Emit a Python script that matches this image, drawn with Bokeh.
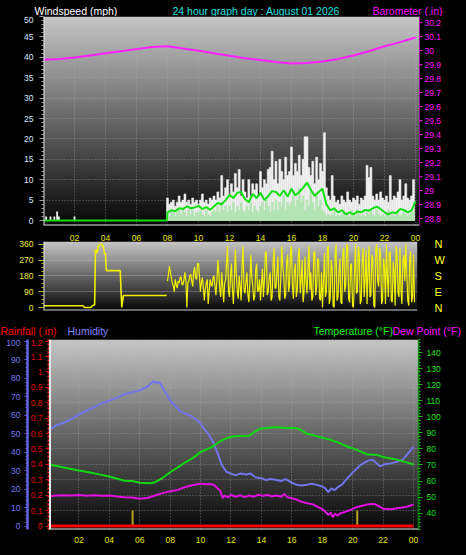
import numpy as np
from bokeh.plotting import figure
from bokeh.layouts import column
from bokeh.models import Range1d, LinearAxis, FixedTicker, NumeralTickFormatter, Span
from bokeh.core.properties import value
from bokeh.embed import file_html
from bokeh.resources import INLINE

FONT = "Liberation Sans"
W = 466

# ------------------------------------------------------------------ data
hour_ticks = [2, 4, 6, 8, 10, 12, 14, 16, 18, 20, 22, 24]
hour_labels = ["02", "04", "06", "08", "10", "12", "14", "16", "18", "20", "22", "00"]

top_titles = ["Windspeed (mph)", "24 hour graph day : August 01 2026", "Barometer (.in)"]
bottom_titles = ["Rainfall (.in)", "Humidity", "Temperature (°F)", "Dew Point (°F)"]

STEP = 0.125
day_hours = [8 + STEP * i for i in range(128)]

early_gust_hours = [0.17, 0.45, 0.7, 0.88, 0.99, 2.0]
early_gust = [1.0, 1.0, 1.0, 2.2, 1.0, 1.0]

gust = [
    5.5, 4.0, 4.5, 5.0, 3.5, 4.5, 6.0, 4.5,
    5.0, 6.5, 4.5, 5.0, 4.0, 5.5, 4.5, 5.0,
    4.0, 5.0, 6.5, 4.5, 5.0, 4.0, 5.5, 5.0,
    6.0, 5.0, 7.0, 5.5, 11.0, 6.0, 8.0, 10.0,
    6.5, 9.0, 7.0, 11.5, 8.0, 12.5, 6.0, 10.0,
    7.0, 5.5, 10.0, 6.0, 9.0, 7.5, 9.0, 6.0,
    12.0, 8.0, 10.0, 9.0, 12.5, 13.0, 17.0, 10.0,
    14.5, 9.0, 15.0, 12.0, 10.0, 15.5, 11.0, 12.0,
    18.0, 11.0, 14.0, 12.0, 16.0, 11.0, 15.0, 20.5,
    20.5, 13.0, 11.0, 14.5, 9.0, 15.5, 10.0, 14.0,
    12.0, 21.5, 8.0, 6.0, 5.0, 11.0, 6.0, 4.5,
    5.0, 4.0, 6.0, 5.0, 4.5, 7.0, 5.0, 4.5,
    5.5, 5.0, 6.0, 4.0, 5.5, 5.0, 6.0, 13.5,
    10.5, 13.0, 6.0, 5.0, 6.5, 5.0, 7.0, 5.5,
    5.0, 6.0, 4.5, 11.0, 5.0, 6.0, 5.5, 7.0,
    10.0, 5.0, 6.0, 9.0, 5.5, 5.0, 6.0, 10.0,
]

speed = [
    1.5, 1, 2, 2.5, 1, 2, 2.5, 1.5,
    2.5, 2, 1, 2.5, 1.5, 2.5, 1, 2,
    2, 2.5, 1.5, 1, 2.5, 1.5, 1, 2,
    2.5, 2, 3.5, 2, 4.5, 2.5, 3.5, 2,
    3.5, 2.5, 4.5, 2, 3.5, 2.5, 4.5, 2.5,
    2, 3.5, 2.5, 4.5, 2, 3.5, 2.5, 2,
    3.5, 4.5, 2.5, 5, 3.5, 2, 4.5, 2.5,
    5, 2.5, 4.5, 3.5, 6, 2.5, 4.5, 3.5,
    4.5, 7, 3.5, 5, 8, 4.5, 6, 2.5,
    5, 3.5, 7, 4.5, 2.5, 6, 3.5, 5,
    2.5, 2, 1, 1.5, 1, 1.5, 2.5, 1,
    1.5, 1, 1.5, 2.5, 1, 1.5, 1, 2.5,
    1.5, 1, 2.5, 1.5, 1, 1.5, 1, 2,
    1.5, 2.5, 1.5, 1, 2.5, 1.5, 1, 1.5,
    1, 1.5, 2.5, 1, 1.5, 1, 1.5, 2.5,
    1, 1.5, 2.5, 1.5, 1, 1.5, 2.5, 2,
]

avg_hours = [0.0, 7.95] + [8 + 0.25 * i for i in range(65)]
avg_speed = [0.0, 0.0,
             2.0, 2.5, 2.3, 3.0, 2.8, 3.5, 3.0, 3.2, 3.6, 2.8, 3.3, 2.6,
             3.5, 4.3, 4.0, 5.0, 6.3, 5.5, 6.8, 7.0, 5.2, 4.5, 6.5, 5.5,
             6.8, 5.0, 6.0, 7.2, 7.0, 6.0, 7.4, 5.8, 7.8, 6.2, 7.0, 8.0,
             9.3, 7.5, 6.0, 7.0, 7.8, 4.0, 2.5, 3.0, 2.0, 2.5, 1.5, 2.0,
             1.5, 2.2, 2.0, 2.6, 2.4, 3.0, 3.4, 2.8, 2.0, 1.5, 2.0, 1.8,
             2.8, 2.6, 2.0, 2.5, 4.7]

baro_hours = list(range(25))
baro = [29.934, 29.94, 29.95, 29.965, 29.98, 29.995, 30.01, 30.025, 30.03,
        30.015, 29.998, 29.98, 29.962, 29.945, 29.932, 29.918, 29.908, 29.91,
        29.922, 29.94, 29.965, 29.995, 30.03, 30.06, 30.093]
baro_ticks = [28.8, 28.9, 29.0, 29.1, 29.2, 29.3, 29.4, 29.5, 29.6, 29.7,
              29.8, 29.9, 30.0, 30.1, 30.2]

dir_early_hours = [0.0, 2.55, 2.65, 3.05, 3.15, 3.3, 3.35, 3.45, 3.55, 3.75,
                   3.85, 3.95, 4.0, 4.05, 4.95, 5.05, 5.15, 7.95]
dir_early = [10, 10, 0, 0, 10, 15, 330, 310, 355, 360, 350, 300, 310, 210,
             210, 0, 68, 68]
DSTEP = 0.0625
dir_hours = [8 + DSTEP * i for i in range(256)]
wind_dir = [
    150, 190, 235, 200, 170, 140, 120, 90,
    160, 130, 110, 150, 140, 170, 175, 130,
    130, 160, 200, 150, 0, 140, 150, 180,
    190, 150, 120, 200, 230, 170, 160, 250,
    250, 180, 90, 140, 170, 120, 40, 100,
    140, 160, 20, 90, 160, 130, 120, 170,
    180, 120, 70, 150, 270, 200, 100, 60,
    200, 120, 30, 140, 160, 260, 350, 90,
    60, 180, 250, 110, 20, 150, 330, 200,
    90, 50, 180, 120, 40, 240, 350, 100,
    80, 150, 200, 70, 30, 140, 300, 180,
    120, 40, 60, 210, 250, 90, 100, 160,
    40, 130, 220, 60, 150, 310, 320, 70,
    90, 170, 200, 40, 60, 250, 340, 110,
    110, 200, 290, 60, 40, 180, 350, 230,
    180, 50, 70, 260, 300, 90, 130, 320,
    350, 120, 50, 210, 250, 60, 100, 300,
    340, 80, 160, 270, 30, 90, 290, 150,
    80, 230, 350, 100, 200, 40, 60, 310,
    320, 70, 120, 280, 270, 50, 40, 200,
    0, 150, 310, 60, 90, 330, 350, 20,
    50, 270, 220, 10, 0, 300, 360, 40,
    60, 200, 280, 30, 20, 310, 340, 90,
    130, 360, 350, 50, 30, 240, 250, 10,
    0, 190, 360, 80, 90, 350, 300, 20,
    40, 270, 340, 60, 160, 330, 20, 200,
    350, 60, 70, 300, 280, 10, 0, 330,
    360, 150, 120, 340, 300, 20, 40, 280,
    230, 20, 360, 170, 60, 310, 320, 40,
    30, 260, 200, 10, 350, 290, 80, 60,
    340, 100, 20, 270, 300, 150, 360, 200,
    40, 10, 280, 320, 30, 60, 300, 30,
]
dir_ticks = [0, 90, 180, 270, 360]
compass = {0: "N", 90: "E", 180: "S", 270: "W", 360: "N"}

hum_hours = [0, 0.5, 1, 1.5, 2, 2.5, 3, 3.5, 4, 4.5, 5, 5.5, 6, 6.5, 6.9, 7.1,
             7.3, 7.5, 7.8, 8.1, 8.4, 8.7, 9.0, 9.3, 9.6, 9.9, 10.2, 10.5,
             10.8, 11.1, 11.4, 11.7, 12.0, 12.3, 12.6, 13.0, 13.3, 13.6, 14.0,
             14.3, 14.6, 15.0, 15.3, 15.6, 16.0, 16.3, 16.6, 17.0, 17.3, 17.6,
             18.0, 18.2, 18.4, 18.6, 18.8, 19.0, 19.3, 19.6, 20.0, 20.5, 21.0,
             21.3, 21.6, 21.8, 22.1, 22.5, 23.0, 23.3, 23.6, 24.0]
humidity = [52, 54.5, 56, 58, 60.5, 62.5, 64.5, 66.5, 68, 69.5, 71.5, 72.5,
            73.5, 75.5, 78.5, 77.5, 78, 75, 71, 67, 64.5, 62, 61, 60, 58.5,
            56.5, 53, 50, 46, 40, 33, 29.5, 28.5, 27.5, 28.5, 28, 28.5, 26.5,
            26, 25, 25.5, 25, 24.5, 25.5, 23.5, 22.5, 22, 22.5, 23, 22.5,
            21.5, 20.5, 18.5, 20.5, 19.5, 21, 22.5, 25.5, 29, 33, 35.5, 36,
            34, 32.5, 33.5, 34, 35, 36, 39, 43]

temp_hours = [0, 1, 2, 3, 4, 5, 5.5, 6, 6.7, 7.0, 7.4, 8.0, 8.5, 9.0, 9.5,
              10.0, 10.7, 11.3, 11.8, 12.2, 13.2, 13.6, 13.9, 15.0, 15.5,
              16.0, 16.47, 17.0, 17.5, 17.9, 18.5, 19.0, 19.5, 20.1, 20.5,
              21.0, 21.6, 22.0, 22.3, 22.7, 23.1, 23.5, 24.0]
temperature = [70.5, 68.5, 66.6, 64.8, 62.8, 60.2, 60.0, 59.0, 58.6, 59.3,
               61.3, 65.5, 68.5, 71.7, 74.5, 78.0, 81.0, 84.8, 87.0, 87.9,
               88.2, 91.0, 92.5, 93.6, 93.0, 93.2, 92.5, 89.4, 88.3, 87.3,
               85.8, 84.2, 82.0, 80.0, 78.5, 76.5, 76.3, 75.0, 74.4, 73.8,
               72.8, 71.8, 70.3]

dew_hours = [0, 0.5, 1, 1.5, 2, 2.5, 3, 3.5, 4, 4.5, 5, 5.5, 6, 6.5, 7, 7.5,
             8, 8.5, 9, 9.5, 10, 10.3, 10.6, 10.9, 11.1, 11.3, 11.45, 11.6,
             11.8, 12.0, 12.3, 12.6, 12.9, 13.2, 13.5, 13.8, 14.1, 14.4, 14.7,
             15.0, 15.3, 15.5, 15.7, 16.0, 16.3, 16.6, 17.0, 17.4, 17.8, 18.1,
             18.4, 18.55, 18.7, 18.85, 19.0, 19.2, 19.5, 19.8, 20.1, 20.5,
             21.0, 21.4, 21.7, 22.0, 22.5, 23.0, 23.5, 24.0]
dew_point = [50.4, 51.0, 51.2, 51.0, 51.3, 50.8, 51.2, 50.9, 51.0, 50.4,
             50.0, 49.8, 49.0, 49.5, 51.0, 52.5, 53.7, 54.5, 56.3, 57.5,
             58.3, 58.0, 58.2, 57.5, 55.5, 54.0, 49.5, 51.0, 49.8, 51.5,
             50.2, 51.2, 50.0, 51.0, 50.3, 51.5, 50.8, 51.3, 50.5, 51.0,
             50.2, 52.0, 50.0, 49.3, 48.5, 47.2, 46.2, 45.5, 43.5, 42.0,
             38.8, 40.5, 37.5, 39.8, 38.5, 40.0, 40.8, 41.8, 43.2, 44.3,
             45.5, 45.8, 44.5, 42.8, 42.5, 43.2, 43.8, 45.4]

rain_hours = [0, 24]
rainfall = [0.0, 0.0]
event_hours = [5.53, 20.3]
event_level = [0.1, 0.1]

rain_ticks = [0, 0.1, 0.2, 0.3, 0.4, 0.5, 0.6, 0.7, 0.8, 0.9, 1.0, 1.1, 1.2]
hum_ticks = [0, 10, 20, 30, 40, 50, 60, 70, 80, 90, 100]
temp_ticks = [40, 50, 60, 70, 80, 90, 100, 110, 120, 130, 140]


# ------------------------------------------------------------------ helpers
def gradient(p, x0, x1, y0, y1, top=198, bottom=6, n=200):
    img = np.zeros((n, 2), dtype=np.uint32)
    v = img.view(dtype=np.uint8).reshape((n, 2, 4))
    for i in range(n):
        c = int(round(bottom + (top - bottom) * i / (n - 1)))
        v[i, :, 0] = c
        v[i, :, 1] = c
        v[i, :, 2] = c
        v[i, :, 3] = 255
    p.image_rgba(image=[img], x=x0, y=y0, dw=x1 - x0, dh=y1 - y0, level="image")


def base_fig(height, xr, yr, left, right, top, bottom, **kw):
    p = figure(width=W, height=height, x_range=xr, y_range=yr,
               output_backend="svg", toolbar_location=None,
               min_border_left=left, min_border_right=right,
               min_border_top=top, min_border_bottom=bottom,
               background_fill_color="black", border_fill_color="black",
               outline_line_color=None, frame_align=False, **kw)
    return p


def style_axis(ax, color, tick_color, size="8.5px", out=4, standoff=4):
    ax.major_label_text_color = color
    ax.major_label_text_font = FONT
    ax.major_label_text_font_size = size
    ax.major_tick_line_color = tick_color
    ax.minor_tick_line_color = tick_color
    ax.major_tick_in = 0
    ax.major_tick_out = out
    ax.minor_tick_in = 0
    ax.minor_tick_out = 2
    ax.major_label_standoff = standoff


def grid_style(g):
    g.grid_line_color = "#b4b4b4"
    g.grid_line_alpha = 0.55
    g.grid_line_dash = "1 2"


def title_strip(height, texts, xs, baseline, colors):
    s = figure(width=W, height=height, x_range=Range1d(0, W), y_range=Range1d(height, 0),
               output_backend="svg", toolbar_location=None,
               x_axis_location=None, y_axis_location=None,
               min_border_left=0, min_border_right=0, min_border_top=0, min_border_bottom=0,
               background_fill_color="black", border_fill_color="black",
               outline_line_color=None, frame_align=False)
    s.grid.visible = False
    s.text(x=xs, y=[baseline] * len(texts), text=texts, text_color=colors,
           text_font=value(FONT), text_font_size=value("10.5px"),
           text_baseline="alphabetic", text_align="left")
    return s


# ------------------------------------------------------------------ title strip (top)
s1 = title_strip(16, top_titles, [34, 172, 372], 10.5, ["#ffffff", "#20e0e0", "#ff10ff"])

# ------------------------------------------------------------------ panel 1 : wind speed / barometer
X1 = (0, 24.26)
Y1 = (-1.225, 50.0)
p1 = base_fig(212, Range1d(*X1), Range1d(*Y1), 43, 47, 0, 3)
p1.xaxis.visible = False
gradient(p1, X1[0], X1[1], Y1[0], Y1[1])
grid_style(p1.xgrid)
grid_style(p1.ygrid)
p1.xgrid.ticker = FixedTicker(ticks=hour_ticks)
p1.ygrid.ticker = FixedTicker(ticks=list(range(5, 51, 5)))

ax = p1.left[0]
ax.ticker = FixedTicker(ticks=list(range(0, 51, 5)), minor_ticks=list(range(0, 51)))
style_axis(ax, "#d4e6ff", "#a0a0a0", out=4, standoff=6)
ax.axis_line_color = None

p1.extra_y_ranges = {"baro": Range1d(28.75, 30.243)}
bax = LinearAxis(y_range_name="baro", ticker=FixedTicker(ticks=baro_ticks),
                 formatter=NumeralTickFormatter(format="0.[0]"))
style_axis(bax, "#ff10ff", "#ff00ff", out=3, standoff=2)
bax.axis_line_color = "#ff00ff"
bax.axis_line_dash = "1 1"
p1.add_layout(bax, "right")

p1.vbar(x=day_hours, top=gust, width=STEP, bottom=0, fill_color="#f0f0f0",
        line_color="#f0f0f0", line_width=0.6)
p1.vbar(x=early_gust_hours, top=early_gust, width=0.12, bottom=0,
        fill_color="#f0f0f0", line_color=None)
p1.vbar(x=day_hours, top=speed, width=STEP, bottom=0, fill_color="#b4e4b4",
        line_color="#b4e4b4", line_width=0.6)
p1.line(avg_hours, avg_speed, line_color="#10e010", line_width=2)
p1.line(baro_hours, baro, y_range_name="baro", line_color="#ff20ff", line_width=2)

p1.add_layout(Span(location=X1[0], dimension="height", line_color="#e6e6e6", line_width=2))
p1.add_layout(Span(location=Y1[0], dimension="width", line_color="#e6e6e6", line_width=2))

# ------------------------------------------------------------------ panel 2 : wind direction
X2 = (0, 24.13)
Y2 = (-17, 375.4)
p2 = base_fig(92, Range1d(*X2), Range1d(*Y2), 43, 49, 13, 10,
              x_axis_location="above")
gradient(p2, X2[0], X2[1], Y2[0], Y2[1])
p2.xgrid.visible = False
p2.ygrid.ticker = FixedTicker(ticks=[90, 180, 270])
p2.ygrid.grid_line_color = "#c0c0c0"
p2.ygrid.grid_line_alpha = 0.35

xa = p2.above[0]
xa.ticker = FixedTicker(ticks=hour_ticks)
xa.major_label_overrides = dict(zip(hour_ticks, hour_labels))
style_axis(xa, "#e6e600", None, out=0, standoff=1)
xa.major_tick_line_color = None
xa.minor_tick_line_color = None
xa.axis_line_color = None

ya = p2.left[0]
ya.ticker = FixedTicker(ticks=dir_ticks, minor_ticks=[22.5 * i for i in range(17)])
style_axis(ya, "#ecec40", "#b8b800", out=5, standoff=5)
ya.axis_line_color = None

cax = LinearAxis(ticker=FixedTicker(ticks=dir_ticks))
cax.major_label_overrides = compass
style_axis(cax, "#ffff20", None, size="11px", out=0, standoff=17)
cax.major_tick_line_color = None
cax.minor_tick_line_color = None
cax.axis_line_color = None
p2.add_layout(cax, "right")

p2.line(dir_early_hours, dir_early, line_color="#f0f000", line_width=1.6)
p2.line(dir_hours, wind_dir, line_color="#f0f000", line_width=1.2)
p2.add_layout(Span(location=X2[0], dimension="height", line_color="#e6e6e6", line_width=2))
p2.add_layout(Span(location=Y2[0], dimension="width", line_color="#d0d0d0", line_width=2))

# ------------------------------------------------------------------ title strip (bottom)
s3 = title_strip(19, bottom_titles, [0, 67, 313, 392], 10,
                 ["#ff0000", "#8080ff", "#10f010", "#ff10ff"])

# ------------------------------------------------------------------ panel 3 : rain / humidity / temperature
X3 = (0, 24.33)
Y3 = (-0.0227, 1.211)
p3 = base_fig(216, Range1d(*X3), Range1d(*Y3), 48, 48, 0, 26)
gradient(p3, X3[0], X3[1], Y3[0], Y3[1])
grid_style(p3.xgrid)
grid_style(p3.ygrid)
p3.xgrid.ticker = FixedTicker(ticks=hour_ticks)
p3.ygrid.ticker = FixedTicker(ticks=rain_ticks[1:])

bx = p3.below[0]
bx.ticker = FixedTicker(ticks=hour_ticks)
bx.major_label_overrides = dict(zip(hour_ticks, hour_labels))
style_axis(bx, "#e6e600", None, out=0, standoff=7)
bx.major_tick_line_color = None
bx.minor_tick_line_color = None
bx.axis_line_color = None

ra = p3.left[0]
ra.ticker = FixedTicker(ticks=rain_ticks)
ra.formatter = NumeralTickFormatter(format="0.[0]")
style_axis(ra, "#e00000", "#e00000", out=3, standoff=3)
ra.axis_line_color = "#ff2020"
ra.axis_line_dash = "2 2"
ra.axis_line_width = 2

p3.extra_y_ranges = {"hum": Range1d(-1.79, 101.08), "temp": Range1d(29.86, 148.1)}
ha = LinearAxis(y_range_name="hum",
                ticker=FixedTicker(ticks=hum_ticks, minor_ticks=list(range(0, 101, 2))))
style_axis(ha, "#7878f0", "#6464e6", out=3, standoff=4)
ha.axis_line_color = "#6464e6"
ha.axis_line_width = 2.5
p3.add_layout(ha, "left")

ta = LinearAxis(y_range_name="temp",
                ticker=FixedTicker(ticks=temp_ticks, minor_ticks=list(range(30, 150, 2))))
style_axis(ta, "#10e010", "#10c010", out=4, standoff=4)
ta.axis_line_color = "#10c010"
ta.axis_line_dash = "1 1"
ta.axis_line_width = 2
p3.add_layout(ta, "right")

p3.vbar(x=event_hours, top=event_level, bottom=0, width=0.13,
        fill_color="#b4a41c", line_color=None)
p3.line(hum_hours, humidity, y_range_name="hum", line_color="#7474ec", line_width=2)
p3.line(temp_hours, temperature, y_range_name="temp", line_color="#10d810", line_width=2)
p3.line(dew_hours, dew_point, y_range_name="temp", line_color="#e010e0", line_width=2)
p3.line(rain_hours, rainfall, line_color="#ff0000", line_width=3)

p3.add_layout(Span(location=0.1, dimension="height", line_color="#e6e6e6", line_width=2))
p3.add_layout(Span(location=Y3[0], dimension="width", line_color="#e6e6e6", line_width=2))

layout = column(s1, p1, p2, s3, p3, spacing=0)
layout.background = "black"

html = file_html(layout, INLINE, title="Weather graph")
html = html.replace("</head>",
                    "<style>html,body{margin:0;padding:0;background:#000000;}</style></head>", 1)
with open("out.html", "w") as f:
    f.write(html)
